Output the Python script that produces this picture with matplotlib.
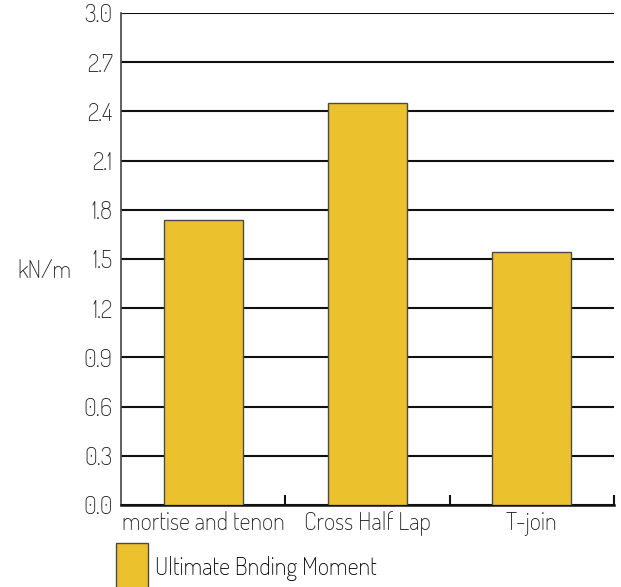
import matplotlib
matplotlib.use("Agg")
import matplotlib.pyplot as plt
from matplotlib.patches import Patch
from matplotlib import font_manager

categories = ["mortise and tenon", "Cross Half Lap", "T-join"]
values = [1.74, 2.45, 1.54]
yticks = [0.0, 0.3, 0.6, 0.9, 1.2, 1.5, 1.8, 2.1, 2.4, 2.7, 3.0]
series_name = "Ultimate Bnding Moment"
ylabel = "kN/m"

names = {f.name for f in font_manager.fontManager.ttflist}
preferred = [n for n in ["Dosis", "Liberation Sans Narrow", "Roboto Condensed"] if n in names]
plt.rcParams["font.family"] = preferred[:1] + ["DejaVu Sans"]

FS = 17.5
text_color = "#1e1e1e"
bar_color = "#EBC12E"
fig = plt.figure(figsize=(6.21, 5.87), dpi=100)
ax = fig.add_axes([121/621, 82/587, 493/621, 492/587])

x = list(range(len(categories)))
ax.bar(x, values, width=0.48, color=bar_color, edgecolor="#4a4a4a", linewidth=1.0, zorder=3)

ax.set_xlim(-0.5, len(categories) - 0.5)
ax.set_ylim(0, 3.0)
ax.set_yticks(yticks)
ax.set_yticklabels([f"{t:.1f}" for t in yticks], fontsize=FS, color=text_color)
ax.set_xticks(x)
ax.set_xticklabels(categories, fontsize=FS, color=text_color)
ax.set_xticks([i + 0.5 for i in x], minor=True)
ax.tick_params(axis="x", which="major", length=0, pad=4)
ax.tick_params(axis="x", which="minor", direction="in", length=7.5, width=1.5, color="#111111")
ax.tick_params(axis="y", length=0, pad=6)

ax.yaxis.grid(True, color="#111111", linewidth=1.5, zorder=0)
ax.set_axisbelow(True)
for s in ["top", "right"]:
    ax.spines[s].set_visible(False)
ax.spines["left"].set_color("#444444")
ax.spines["left"].set_linewidth(1.2)
ax.spines["bottom"].set_color("#111111")
ax.spines["bottom"].set_linewidth(1.8)

ax.set_ylabel(ylabel, fontsize=FS, rotation=0, color=text_color, ha="center", va="center")
ax.yaxis.set_label_coords(-0.156, 0.475)

handle = Patch(facecolor=bar_color, edgecolor="#4a4a4a", linewidth=1.0)
fig.legend([handle], [series_name], loc="upper left",
           bbox_to_anchor=(116/621, 1 - 543/587), frameon=False, fontsize=FS,
           handlelength=1.3, handleheight=2.7, handletextpad=0.3, borderaxespad=0,
           borderpad=0)

fig.savefig("out.png", dpi=100)
